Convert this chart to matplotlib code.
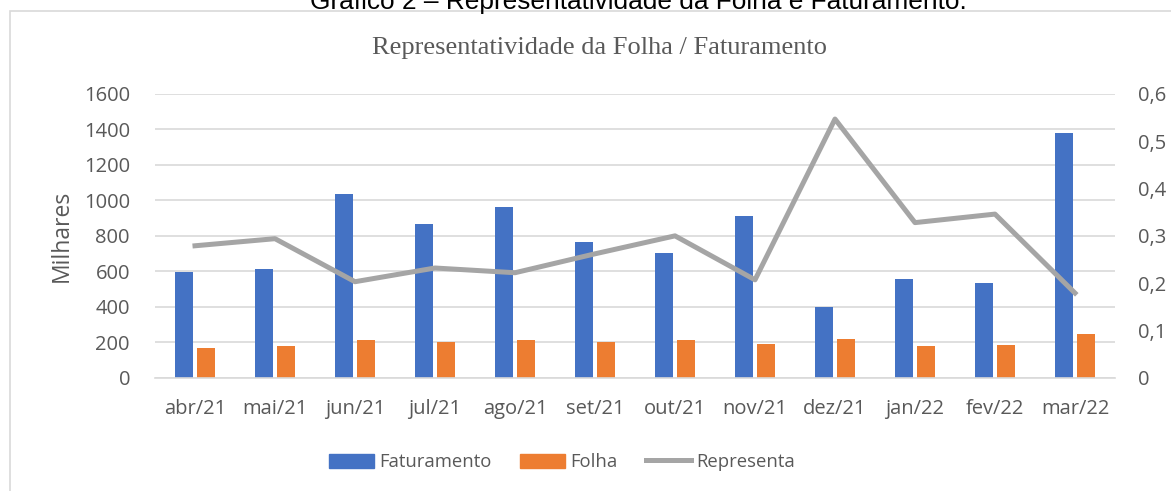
import numpy as np
import matplotlib.pyplot as plt
from matplotlib.patches import Rectangle
from matplotlib.lines import Line2D
from matplotlib.patches import Patch

meses = ['abr/21', 'mai/21', 'jun/21', 'jul/21', 'ago/21', 'set/21',
         'out/21', 'nov/21', 'dez/21', 'jan/22', 'fev/22', 'mar/22']
faturamento = [597, 615, 1037, 868, 962, 764, 706, 911, 397, 555, 533, 1378]
folha = [168, 181, 213, 200, 213, 202, 211, 190, 218, 181, 185, 247]
representa = [0.279, 0.294, 0.203, 0.232, 0.222, 0.262, 0.300, 0.207,
              0.547, 0.328, 0.346, 0.179]

W, H = 1171, 491
fig = plt.figure(figsize=(W / 100, H / 100), dpi=100)
txt = '#595959'
font = 'Open Sans'
fs = 14.5

# moldura do grafico
fig.patches.append(Rectangle((10 / W, -0.1), 1.2, 1 - 11 / H + 0.1,
                             transform=fig.transFigure, fill=False,
                             edgecolor='#D9D9D9', lw=1.2))

# legenda do documento (cortada no topo, como no original)
fig.text(638 / W, 1 - 9 / H, 'Gráfico 2 – Representatividade da Folha e Faturamento.',
         ha='center', va='baseline', fontsize=18.9, family='Liberation Sans', color='black')

ax = fig.add_axes([155 / W, 1 - 377.7 / H, 960 / W, 283.7 / H])
x = np.arange(len(meses))
ax.bar(x - 0.14, faturamento, width=0.225, color='#4472C4', zorder=2)
ax.bar(x + 0.14, folha, width=0.22, color='#ED7D31', zorder=2)
ax.set_xlim(-0.5, len(meses) - 0.5)
ax.set_ylim(0, 1600)
ax.set_yticks(range(0, 1601, 200))
ax.set_xticks(x)
ax.set_xticklabels(meses)
ax.grid(axis='y', color='#D9D9D9', lw=1.2, zorder=0)
for s in ['top', 'right', 'left']:
    ax.spines[s].set_visible(False)
ax.spines['bottom'].set_color('#D9D9D9')
ax.spines['bottom'].set_linewidth(1.2)
ax.tick_params(length=0, labelcolor=txt, labelsize=fs)
ax.tick_params(axis='x', pad=15)
ax.tick_params(axis='y', pad=18)
for lb in ax.get_xticklabels() + ax.get_yticklabels():
    lb.set_family(font)
ax.set_ylabel('Milhares', fontsize=16.5, color=txt, family=font, labelpad=7)

ax2 = ax.twinx()
ax2.plot(x, representa, color='#A5A5A5', lw=3.6, zorder=3)
ax2.set_ylim(0, 0.6)
ax2.set_yticks(np.arange(0, 0.61, 0.1))
ax2.set_yticklabels(['0', '0,1', '0,2', '0,3', '0,4', '0,5', '0,6'])
for s in ax2.spines.values():
    s.set_visible(False)
ax2.tick_params(length=0, labelcolor=txt, labelsize=fs, pad=16.5)
for lb in ax2.get_yticklabels():
    lb.set_family(font)

fig.text(600 / W, 1 - 48 / H, 'Representatividade da Folha / Faturamento',
         ha='center', va='center', fontsize=19, family='Liberation Serif', color=txt)

handles = [Patch(color='#4472C4'), Patch(color='#ED7D31'),
           Line2D([], [], color='#A5A5A5', lw=3.6)]
fig.legend(handles, ['Faturamento', 'Folha', 'Representa'], loc='center',
           bbox_to_anchor=(562 / W, 1 - 462 / H), ncol=3, frameon=False,
           prop={'family': font, 'size': 13.3}, labelcolor=txt,
           handlelength=2.45, handleheight=0.8, handletextpad=0.3, columnspacing=1.5)

fig.savefig('out.png', dpi=100)
